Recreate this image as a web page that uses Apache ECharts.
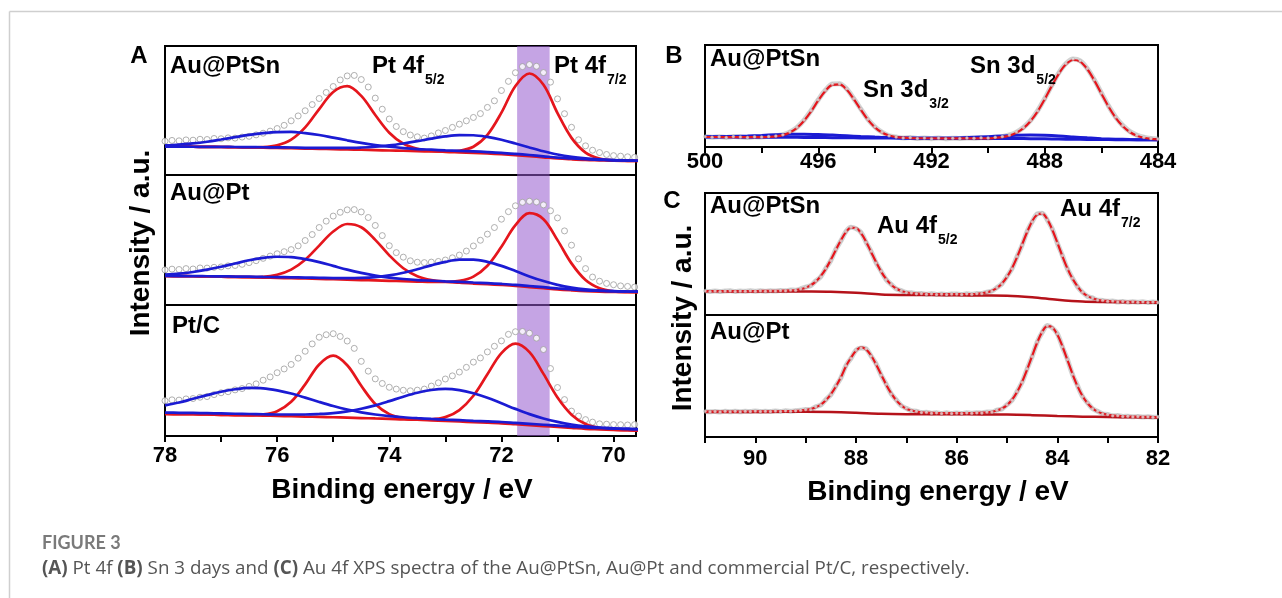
<!DOCTYPE html>
<html><head><meta charset="utf-8">
<script src="https://cdn.jsdelivr.net/npm/echarts@6/dist/echarts.min.js"></script>
<style>html,body{margin:0;padding:0;background:#fff}#chart{width:1282px;height:598px}</style>
</head><body><div id="chart"></div>
<script>
// ---------- Energy sampling (eV) ----------
function energies(start, step, n) { const a = []; for (let i = 0; i < n; i++) a.push(+(start - i * step).toFixed(3)); return a; }
const aFitE = energies(78, 0.25, 35);     // Pt 4f fit curves
const aDataE = energies(78, 0.125, 69);   // Pt 4f measured points
const bFitE = energies(500, 0.25, 65);    // Sn 3d fit + data
const bBlueE = energies(500, 0.5, 33);    // Sn 3d minor components
const cE = energies(91, 0.1, 91);         // Au 4f fit + data
const cBgE = energies(91, 0.5, 19);       // Au 4f background

// ---------- Panel A : Pt 4f (intensity, a.u.) ----------
const ptsnRed1 = [22.0,22.0,21.9,21.8,21.7,21.5,21.4,21.6,23.0,27.4,36.9,51.1,64.4,68.9,61.3,46.5,32.8,24.3,20.3,18.7,18.0,17.6,17.2,16.7,16.1,15.4,14.6,13.7,12.8,12.2,11.7,11.4,11.1,11.0,10.9];
const ptsnRed2 = [22.0,22.0,21.9,21.8,21.7,21.5,21.4,21.2,21.0,20.8,20.5,20.3,20.0,19.8,19.6,19.3,19.0,18.8,18.5,18.3,18.2,18.8,21.9,31.1,48.3,69.0,78.7,69.9,48.0,28.8,17.4,12.8,11.4,11.0,10.9];
const ptsnBlue1 = [22.9,23.6,24.5,25.8,27.5,29.3,31.1,32.5,33.3,33.4,32.4,31.0,29.0,26.9,24.9,23.2,21.9,20.9,20.1,19.6,19.1,18.7,18.3,17.8,17.2,16.4,15.5,14.5,13.5,12.8,12.2,11.8,11.4,11.2,11.0];
const ptsnBlue2 = [22.0,22.0,21.9,21.8,21.8,21.7,21.6,21.5,21.4,21.3,21.1,21.1,21.0,21.0,21.3,21.9,22.9,24.4,26.2,28.2,29.9,30.9,30.8,29.5,27.3,24.4,21.3,18.4,15.9,14.1,12.9,12.1,11.5,11.2,11.0];
const ptsnData = [26.2,26.8,26.5,27.2,27.0,27.7,27.5,28.3,28.1,28.8,28.6,29.4,30.0,31.1,32.4,34.0,36.0,38.5,42.0,45.8,49.8,54.6,59.3,64.0,68.6,73.7,76.8,77.2,74.0,68.2,59.6,51.0,43.4,37.6,33.6,31.0,29.6,28.6,30.3,32.6,34.5,36.9,39.4,42.0,44.6,47.6,52.4,57.5,65.5,72.6,79.3,84.0,85.6,84.3,79.4,72.0,59.0,47.5,37.0,27.3,22.6,19.2,17.4,15.9,15.0,14.6,14.1,13.7,13.6];

const ptRed1 = [22.3,22.2,22.1,22.0,21.8,21.6,21.5,21.7,23.3,27.2,34.8,45.7,56.5,62.3,59.8,50.1,38.2,28.3,22.2,19.2,17.9,17.1,16.5,16.0,15.4,14.7,13.8,12.9,12.0,11.3,10.7,10.3,10.1,10.0,9.9];
const ptRed2 = [22.3,22.2,22.1,22.0,21.8,21.6,21.4,21.1,20.8,20.6,20.4,20.1,19.8,19.5,19.2,18.9,18.6,18.3,18.0,17.7,17.7,18.5,21.8,30.2,44.8,61.4,70.6,66.0,49.9,32.0,19.2,12.9,10.5,9.9,9.8];
const ptBlue1 = [23.3,24.1,25.4,27.2,29.4,31.9,34.4,36.2,37.1,36.8,35.3,33.0,30.1,27.2,24.7,22.6,21.1,20.0,19.2,18.7,18.2,17.8,17.3,16.8,16.2,15.5,14.6,13.7,12.8,12.0,11.3,10.9,10.6,10.4,10.3];
const ptBlue2 = [22.3,22.2,22.2,22.1,22.0,21.9,21.8,21.6,21.5,21.3,21.1,20.9,20.7,20.7,20.9,21.5,22.8,24.8,27.5,30.5,33.2,34.9,34.9,33.2,30.1,26.2,22.0,18.4,15.5,13.4,12.0,11.2,10.6,10.4,10.3];
const ptData = [27.0,27.6,27.3,28.0,27.7,28.5,28.4,29.0,29.3,30.1,30.4,31.3,32.6,34.1,35.9,37.6,39.4,41.0,42.6,45.5,49.6,54.2,59.6,64.5,68.4,71.3,73.2,73.4,71.6,67.3,61.2,53.4,45.6,40.3,36.8,34.0,32.9,32.6,33.0,33.5,34.6,36.3,38.4,41.5,45.4,49.8,54.5,59.6,66.0,71.8,76.3,79.0,79.8,79.2,77.0,72.5,67.0,57.0,46.0,35.5,28.0,21.5,18.3,16.6,15.6,14.7,14.3,13.8,13.5];

const ptcRed1 = [16.9,16.7,16.6,16.4,16.2,16.0,15.9,16.4,18.9,26.1,39.4,54.6,61.3,54.0,38.3,24.4,16.7,13.5,12.4,11.9,11.5,11.1,10.6,10.2,9.7,9.0,8.3,7.6,6.9,6.2,5.5,5.1,4.7,4.4,4.1];
const ptcRed2 = [16.9,16.7,16.6,16.4,16.2,16.0,15.8,15.6,15.3,15.1,14.8,14.6,14.3,14.0,13.7,13.4,13.1,12.7,12.5,12.7,14.4,19.8,30.7,47.1,63.3,70.5,64.0,47.4,29.4,16.3,9.1,6.1,4.9,4.4,4.1];
const ptcBlue1 = [23.4,25.6,28.4,31.2,33.8,35.7,36.7,36.4,34.8,32.4,29.3,26.0,22.9,20.2,18.0,16.4,15.2,14.3,13.6,13.0,12.5,12.1,11.6,11.2,10.7,10.0,9.3,8.6,7.9,7.2,6.5,6.1,5.7,5.4,5.1];
const ptcBlue2 = [17.9,17.7,17.6,17.4,17.2,17.0,16.8,16.6,16.4,16.4,16.4,16.8,17.5,18.8,20.8,23.4,26.6,30.0,33.0,35.1,35.9,35.0,32.6,29.2,25.0,20.7,16.7,13.4,10.8,8.8,7.4,6.5,5.9,5.4,5.1];
const ptcData = [26.9,27.6,27.4,28.3,28.6,29.6,30.1,31.6,33.0,33.8,35.2,36.2,37.9,39.8,42.6,45.1,48.3,51.2,54.6,59.4,64.7,70.3,75.4,77.3,78.1,76.0,72.5,66.9,57.0,49.5,43.6,40.1,37.2,35.8,34.9,34.5,35.0,35.8,38.1,40.6,43.5,45.9,48.8,52.4,56.4,59.6,64.2,68.5,72.6,77.6,79.6,79.8,78.5,74.7,66.0,51.5,37.0,27.8,19.0,15.2,12.5,10.6,9.3,9.0,8.7,8.6,8.4,8.7,8.5];

const ptBand = [71.72, 71.14];

// ---------- Panel B : Sn 3d ----------
const snFit = [9.8,9.8,9.8,9.7,9.7,9.7,9.6,9.6,9.6,9.9,10.4,11.6,14.2,18.8,25.7,35.0,45.6,55.0,60.9,61.4,56.4,47.2,36.7,26.8,19.3,14.2,11.2,9.7,9.1,8.7,8.6,8.6,8.6,8.5,8.5,8.5,8.5,8.5,8.4,8.4,8.4,9.0,9.7,11.2,14.0,18.5,25.5,35.0,46.9,59.9,72.0,81.1,85.3,83.7,76.5,65.3,52.4,39.7,28.9,20.6,14.7,11.1,9.1,8.0,7.4];
const snData = [10.3,9.6,10.1,9.4,10.2,9.9,9.3,10.0,9.8,10.4,10.9,12.1,14.8,19.3,26.4,35.8,46.3,55.6,61.7,62.0,57.1,47.6,37.4,27.2,19.8,14.5,11.0,9.9,8.8,9.2,8.3,8.9,8.2,8.8,8.1,8.7,8.3,8.9,8.6,9.1,8.9,9.6,10.2,11.8,14.6,19.1,26.0,35.6,47.5,60.5,72.8,81.8,86.2,84.5,77.0,65.9,52.9,40.3,29.4,21.2,15.3,11.6,9.6,8.4,7.9];
const snBlue1 = [10.0,10.1,10.3,10.7,11.3,12.0,12.5,12.6,12.3,11.7,11.0,10.3,9.7,9.2,8.9,8.7,8.6,8.55,8.5,8.45,8.4,8.35,8.3,8.15,8.0,7.8,7.6,7.45,7.3,7.2,7.1,7.05,7.0];
const snBlue2 = [9.8,9.75,9.7,9.65,9.6,9.55,9.5,9.4,9.3,9.15,9.0,8.9,8.8,8.75,8.7,8.65,8.6,8.6,8.8,9.45,10.1,10.75,11.4,11.65,11.4,10.8,9.9,8.95,8.2,7.7,7.3,7.15,7.0];

// ---------- Panel C : Au 4f ----------
const auPtSnFit = [19.5,19.5,19.5,19.5,19.5,19.5,19.5,19.5,19.55,19.6,19.6,19.7,19.7,19.75,19.75,19.85,20.0,20.2,20.5,21.2,22.4,24.35,27.4,31.85,37.8,45.2,53.3,61.3,67.9,71.55,71.3,67.1,60.1,51.7,43.2,35.6,29.4,24.85,21.7,19.65,18.67,18.0,17.7,17.4,17.3,17.15,17.15,17.07,17.08,17.04,17.08,17.06,17.13,17.2,17.4,17.85,18.5,19.85,22.2,25.9,31.3,38.4,47.5,57.75,68.0,76.9,82.3,83.05,78.4,69.9,59.3,48.35,38.2,29.85,23.55,18.4,15.5,13.7,12.5,11.8,11.5,11.2,11.0,10.9,10.8,10.75,10.65,10.6,10.55,10.5,10.45];
const auPtSnData = [19.8,19.3,19.7,19.2,19.6,19.9,19.3,19.6,19.4,19.9,19.4,19.9,19.5,19.9,19.6,20.1,19.8,20.5,20.3,21.5,22.8,24.0,27.9,31.4,38.3,44.7,53.9,60.8,68.5,71.9,70.8,67.6,59.6,52.2,42.7,35.9,29.0,25.1,21.4,19.9,18.4,18.2,17.5,17.6,17.0,17.4,16.9,17.3,16.8,17.3,17.3,16.8,17.4,17.0,17.6,17.6,18.8,19.6,22.5,25.6,31.7,38.0,48.0,57.3,68.6,76.4,82.9,83.5,77.9,70.4,58.8,48.8,37.8,30.2,23.2,18.7,15.2,14.0,12.2,12.0,11.2,11.4,10.7,11.1,10.5,10.9,10.4,10.8,10.3,10.7,10.2];
const auPtSnBg = [19.4,19.35,19.3,19.25,19.2,19.0,18.2,16.8,16.4,16.3,16.2,15.95,15.8,14.6,12.5,11.0,10.6,10.3,10.1];
const auPtFit = [20.8,20.8,20.8,20.8,20.85,20.85,20.85,20.9,20.9,20.9,20.95,20.95,21.0,21.0,21.1,21.1,21.2,21.3,21.4,21.7,22.2,22.9,24.35,26.5,30.15,35.0,41.4,48.9,58.0,64.95,70.7,73.4,71.85,66.8,59.45,51.1,42.9,35.7,30.05,26.0,23.2,21.8,20.8,20.25,19.9,19.75,19.6,19.55,19.5,19.5,19.5,19.5,19.55,19.6,19.7,19.9,20.2,20.65,21.7,23.3,26.15,30.5,36.85,45.2,55.4,66.5,77.45,86.2,90.85,89.9,84.1,74.4,63.2,51.8,41.7,33.6,27.65,23.5,20.8,19.15,18.2,17.65,17.3,17.0,16.85,16.75,16.6,16.5,16.45,16.4,16.3];
const auPtData = [21.1,20.6,21.0,20.5,21.1,20.7,21.2,20.6,21.1,20.8,21.3,20.8,21.2,20.8,21.4,20.9,21.5,21.1,21.6,21.9,22.5,22.6,24.8,26.2,30.6,34.6,41.9,48.5,58.5,64.5,71.2,73.0,72.3,66.3,59.9,50.7,43.3,35.3,30.4,25.7,23.5,21.5,21.1,20.0,20.2,19.5,19.9,19.3,19.8,19.3,19.7,19.3,19.8,19.4,19.9,19.7,20.5,20.4,22.0,23.0,26.5,30.1,37.3,44.8,55.9,66.0,77.9,85.8,91.3,89.4,84.6,73.9,63.6,51.4,42.1,33.2,28.0,23.2,21.1,18.9,18.5,17.4,17.6,16.8,17.1,16.5,16.9,16.3,16.7,16.2,16.5];
const auPtBg = [20.5,20.5,20.55,20.6,20.6,20.4,19.8,19.0,18.7,18.65,18.6,18.5,18.4,17.9,17.2,16.7,16.4,16.1,15.9];

// ---------- Axis ticks ----------
const aTicks = [78,77,76,75,74,73,72,71,70];
const aLabels = [78,76,74,72,70];
const bTicks = [500,498,496,494,492,490,488,486,484];
const bLabels = [500,496,492,488,484];
const cTicks = [91,90,89,88,87,86,85,84,83,82];
const cLabels = [90,88,86,84,82];

// ---------- Styling ----------
const FONT = 'Arial, "Liberation Sans", Helvetica, sans-serif';
const RED = '#e5161d', BLUE = '#1b1bd3', BGRED = '#b5121a';
const zip = (e, v) => e.map((x, i) => [x, v[i]]);

const grids = [
  {left:165, top:46, width:471, height:129},
  {left:165, top:175, width:471, height:130},
  {left:165, top:305, width:471, height:131},
  {left:705, top:45, width:453, height:102},
  {left:705, top:193, width:453, height:122},
  {left:705, top:315, width:453, height:122}
].map(g => Object.assign(g, {show:true, borderColor:'#000', borderWidth:2, backgroundColor:'transparent'}));

function xAx(gi, min, max, ticks, labels, margin) {
  const shown = !!ticks;
  return {
    type:'value', gridIndex:gi, min, max, inverse:true, show:shown,
    axisLine:{show:true, onZero:false, lineStyle:{color:'#000', width:2}},
    axisTick:{show:shown, inside:false, length:6, lineStyle:{color:'#000', width:2}, customValues:ticks || []},
    axisLabel:{show:shown, customValues:labels || [], margin:margin || 8, color:'#000', fontSize:22, fontWeight:'bold', fontFamily:FONT,
      formatter: v => String(v)},
    splitLine:{show:false}
  };
}
const xAxes = [
  xAx(0, 69.6, 78), xAx(1, 69.6, 78), xAx(2, 69.6, 78, aTicks, aLabels, 9),
  xAx(3, 484, 500, bTicks, bLabels, 4),
  xAx(4, 82, 91), xAx(5, 82, 91, cTicks, cLabels, 11)
];
const yAxes = grids.map((g, i) => ({type:'value', gridIndex:i, min:0, max:100, show:false}));

function line(gi, e, v, color, z, width) {
  return {type:'line', xAxisIndex:gi, yAxisIndex:gi, data:zip(e, v), showSymbol:false, smooth:0.35,
    lineStyle:{color, width:width || 2.7}, z, silent:true, animation:false};
}
function pts(gi, e, v) {
  return {type:'scatter', xAxisIndex:gi, yAxisIndex:gi, data:zip(e, v), symbol:'circle', symbolSize:6,
    itemStyle:{color:'#fff', borderColor:'#9c9c9c', borderWidth:1}, z:1, silent:true, animation:false};
}
function band(gi) {
  return {type:'line', xAxisIndex:gi, yAxisIndex:gi, data:[], z:10, silent:true,
    markArea:{silent:true, itemStyle:{color:'rgba(150,90,205,0.55)'}, data:[[{xAxis:ptBand[0]}, {xAxis:ptBand[1]}]]}};
}
function halo(gi, e, v) {
  return {type:'line', xAxisIndex:gi, yAxisIndex:gi, data:zip(e, v), showSymbol:false, smooth:0.3,
    lineStyle:{color:'rgba(175,175,175,0.55)', width:5}, z:1, silent:true};
}
function dots(gi, e, v) {
  return {type:'scatter', xAxisIndex:gi, yAxisIndex:gi, data:zip(e, v), symbol:'circle', symbolSize:3,
    itemStyle:{color:'rgba(240,240,240,0.9)', borderColor:'rgba(160,160,160,0.8)', borderWidth:0.6}, z:4, silent:true};
}

const series = [];
[[ptsnData, ptsnRed1, ptsnRed2, ptsnBlue1, ptsnBlue2],
 [ptData, ptRed1, ptRed2, ptBlue1, ptBlue2],
 [ptcData, ptcRed1, ptcRed2, ptcBlue1, ptcBlue2]].forEach((s, gi) => {
  series.push(pts(gi, aDataE, s[0]));
  series.push(line(gi, aFitE, s[1], RED, 2));
  series.push(line(gi, aFitE, s[2], RED, 2));
  series.push(line(gi, aFitE, s[3], BLUE, 3));
  series.push(line(gi, aFitE, s[4], BLUE, 3));
  series.push(band(gi));
});
// B
series.push(halo(3, bFitE, snData));
series.push(line(3, bBlueE, snBlue1, BLUE, 2, 3));
series.push(line(3, bBlueE, snBlue2, BLUE, 2, 3));
series.push(line(3, bFitE, snFit, RED, 3, 2.2));
series.push(dots(3, bFitE, snData));
// C
series.push(halo(4, cE, auPtSnData));
series.push(line(4, cBgE, auPtSnBg, BGRED, 2, 2.5));
series.push(line(4, cE, auPtSnFit, RED, 3, 2.2));
series.push(dots(4, cE, auPtSnData));
series.push(halo(5, cE, auPtData));
series.push(line(5, cBgE, auPtBg, BGRED, 2, 2.5));
series.push(line(5, cE, auPtFit, RED, 3, 2.2));
series.push(dots(5, cE, auPtData));

// ---------- Text ----------
const mctx = document.createElement('canvas').getContext('2d');
function tw(text, font) { mctx.font = font; return mctx.measureText(text).width; }
function txt(x, y, text, size, o) {
  o = o || {};
  return {type:'text', x, y, rotation:o.rot || 0, silent:true, z:100,
    style:{text, font:(o.weight || 'bold') + ' ' + size + 'px ' + (o.family || FONT), fill:o.color || '#000',
      align:o.align || 'left', verticalAlign:'middle', textAlign:o.align || 'left', textVerticalAlign:'middle', rich:o.rich}};
}
function withSub(x, y, main, sub) {
  const w = tw(main, 'bold 24px ' + FONT);
  return [txt(x, y, main, 24), txt(x + w + 1, y + 14, sub, 14)];
}
const CAP = '"Open Sans", Lato, sans-serif';
const graphic = [
  {type:'line', silent:true, shape:{x1:9.5, y1:11.5, x2:1282, y2:11.5}, style:{stroke:'#cfcfcf', lineWidth:1.5}},
  {type:'line', silent:true, shape:{x1:9.5, y1:11.5, x2:9.5, y2:598}, style:{stroke:'#cfcfcf', lineWidth:1.5}},
  txt(139, 56, 'A', 24, {align:'center'}),
  txt(674, 56, 'B', 24, {align:'center'}),
  txt(672, 201, 'C', 24, {align:'center'}),
  txt(170, 66, 'Au@PtSn', 24),
  ...withSub(372, 66, 'Pt 4f', '5/2'),
  ...withSub(554, 66, 'Pt 4f', '7/2'),
  txt(170, 193, 'Au@Pt', 24),
  txt(172, 326, 'Pt/C', 24),
  txt(710, 59, 'Au@PtSn', 24),
  ...withSub(863, 90, 'Sn 3d', '3/2'),
  ...withSub(970, 66, 'Sn 3d', '5/2'),
  txt(710, 206, 'Au@PtSn', 24),
  ...withSub(877, 226, 'Au 4f', '5/2'),
  ...withSub(1060, 209, 'Au 4f', '7/2'),
  txt(710, 332, 'Au@Pt', 24),
  txt(141, 243, 'Intensity / a.u.', 28, {align:'center', rot:Math.PI / 2}),
  txt(683, 318, 'Intensity / a.u.', 28, {align:'center', rot:Math.PI / 2}),
  txt(402, 490, 'Binding energy / eV', 28, {align:'center'}),
  txt(938, 492, 'Binding energy / eV', 28, {align:'center'}),
  txt(42, 543, 'FIGURE 3', 18, {weight:'bold', family:'Lato, sans-serif', color:'#7a7a7a'}),
  txt(42, 569, '{b|(A)} Pt 4f {b|(B)} Sn 3 days and {b|(C)} Au 4f XPS spectra of the Au@PtSn, Au@Pt and commercial Pt/C, respectively.', 18.8,
    {weight:'normal', family:CAP, color:'#555', rich:{b:{font:'bold 18.8px ' + CAP, fill:'#555'}}})
];

const chart = echarts.init(document.getElementById('chart'), null, {renderer:'canvas'});
chart.setOption({backgroundColor:'#fff', animation:false, grid:grids, xAxis:xAxes, yAxis:yAxes, series, graphic});
</script></body></html>
